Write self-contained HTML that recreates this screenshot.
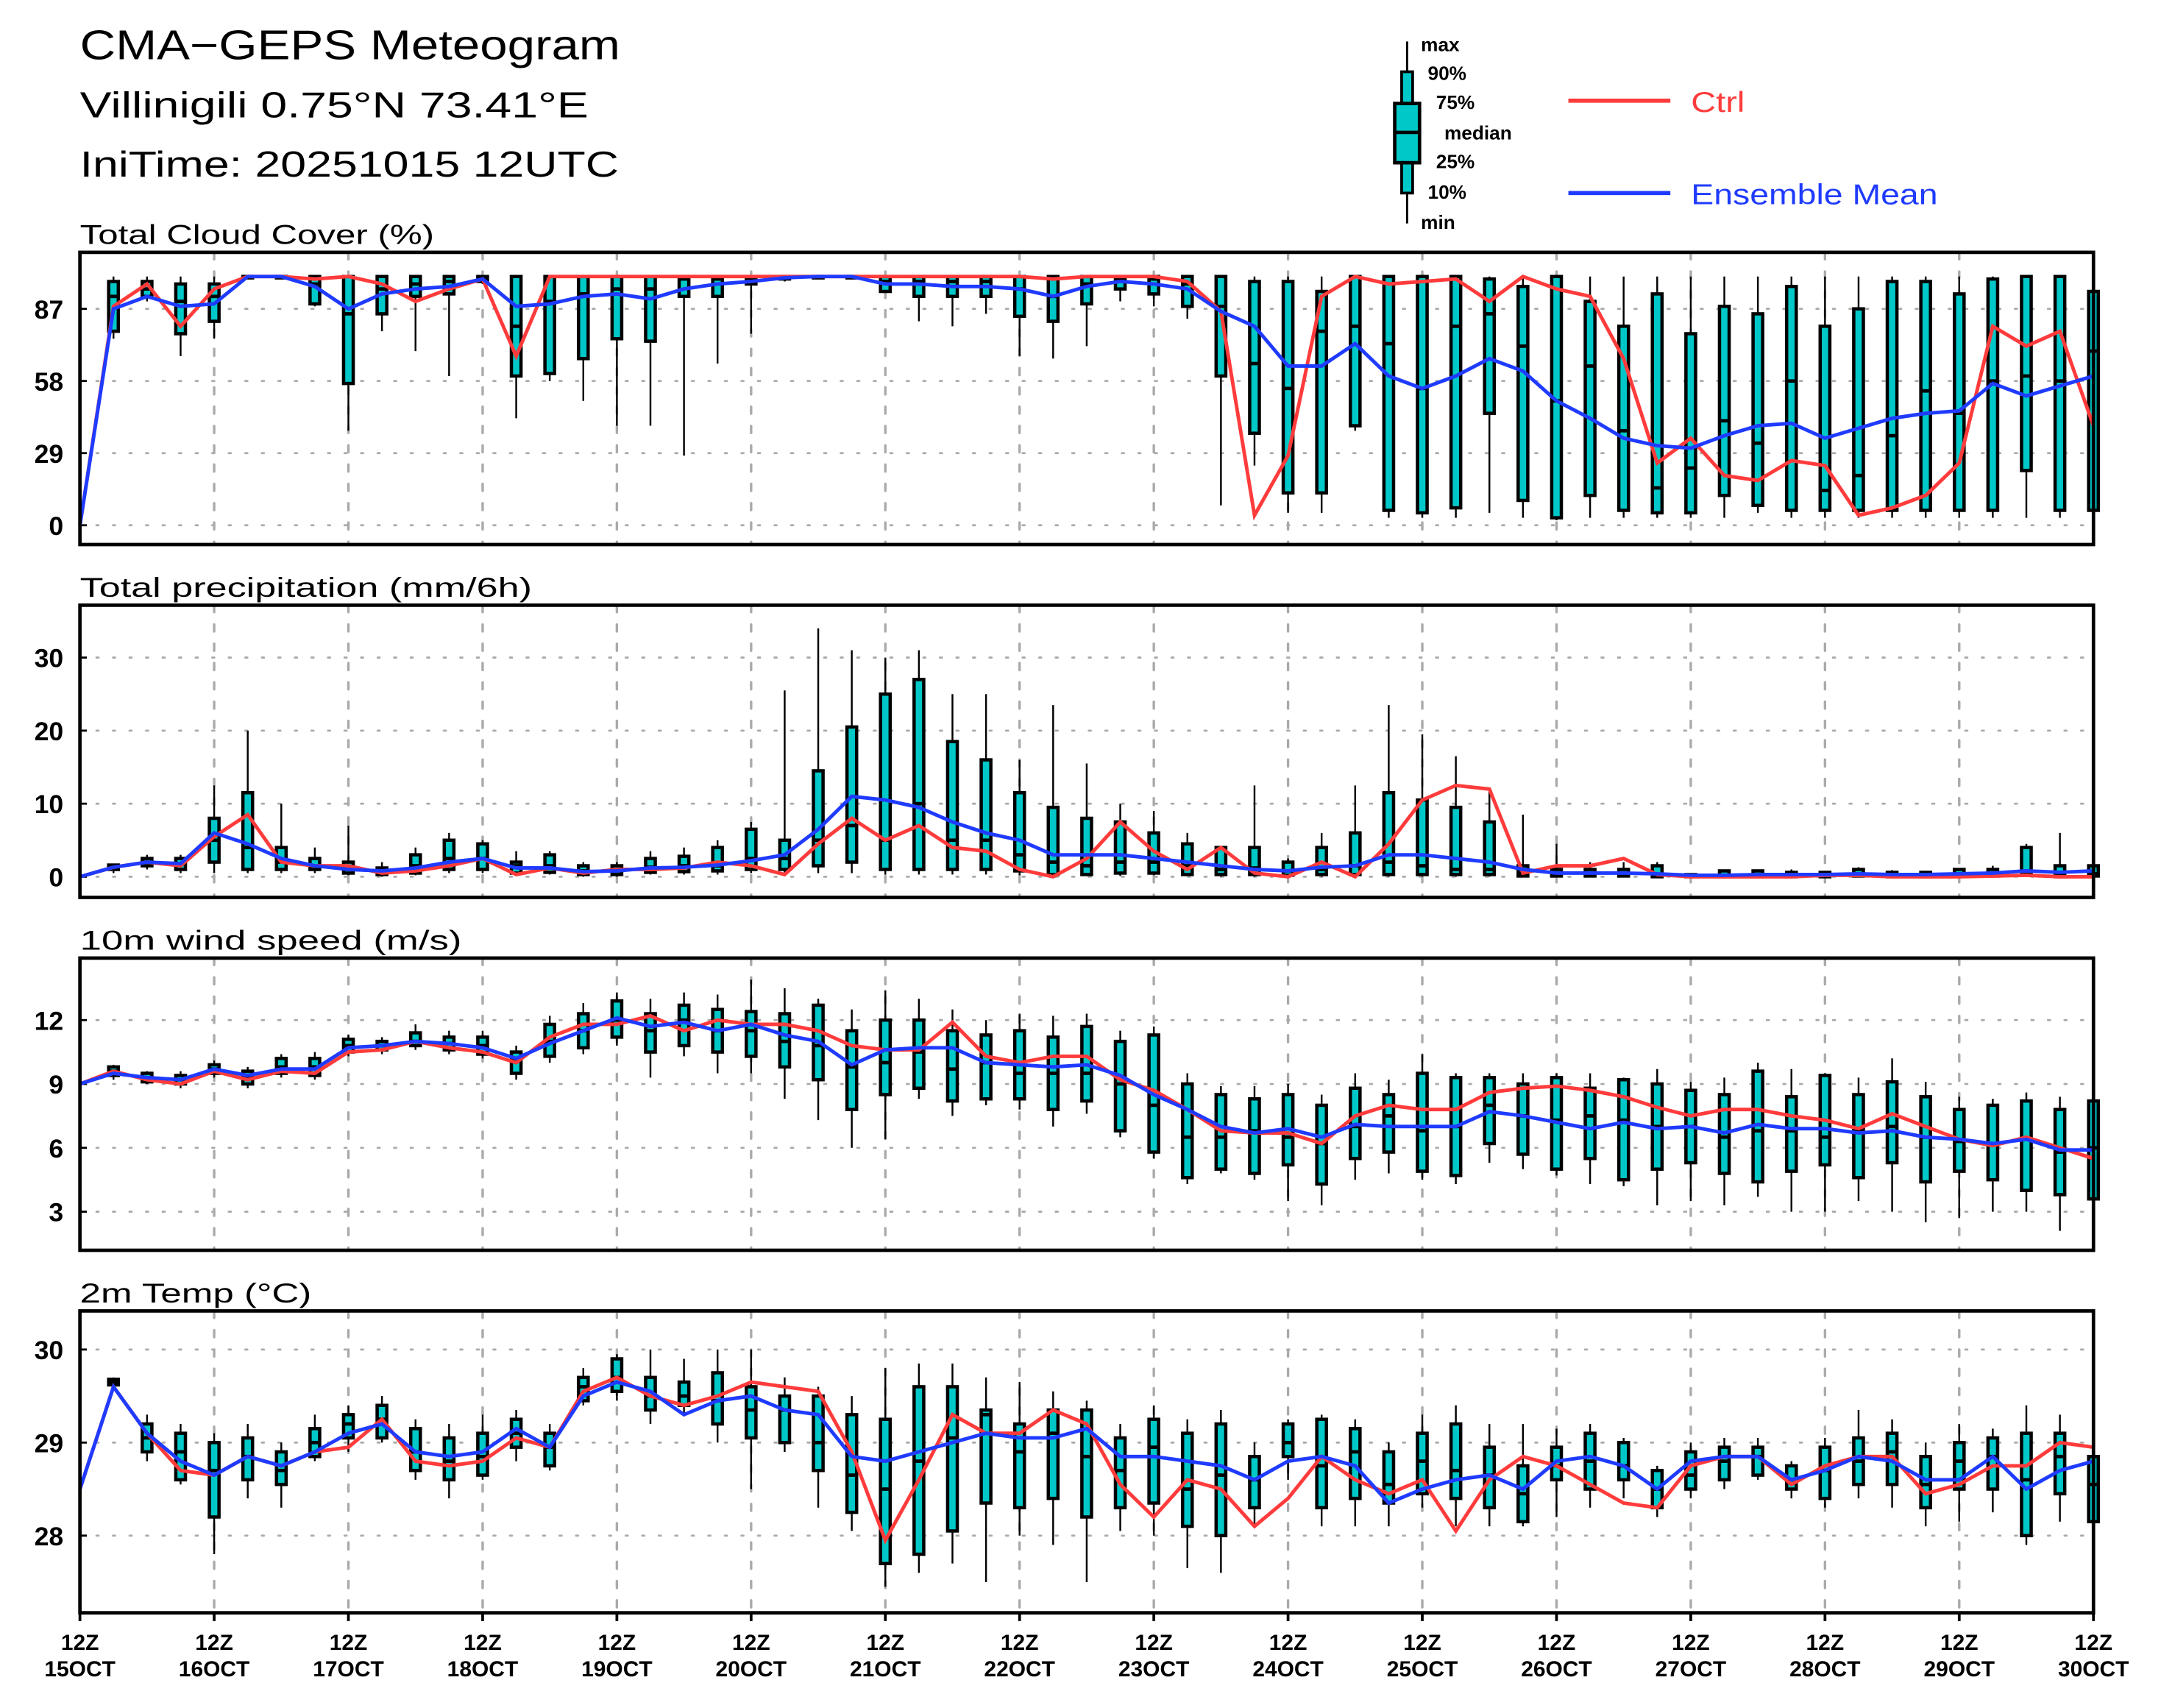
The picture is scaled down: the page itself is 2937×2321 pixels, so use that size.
<!DOCTYPE html>
<html><head><meta charset="utf-8"><style>html,body{margin:0;padding:0;background:#fff}svg{display:block}text{font-family:"Liberation Sans",sans-serif}</style></head>
<body>
<svg id="chart" xmlns="http://www.w3.org/2000/svg" width="2937" height="2321" viewBox="0 0 1568 1239">
<rect width="1568" height="1239" fill="#fff"/>
<text x="58" y="43" font-size="30" textLength="392" lengthAdjust="spacingAndGlyphs">CMA−GEPS Meteogram</text>
<text x="58" y="85" font-size="26" textLength="369" lengthAdjust="spacingAndGlyphs">Villinigili 0.75°N 73.41°E</text>
<text x="58" y="128" font-size="26" textLength="391" lengthAdjust="spacingAndGlyphs">IniTime: 20251015 12UTC</text>
<g id="legend">
<line x1="1021" y1="30" x2="1021" y2="162" stroke="#000" stroke-width="1.5"/>
<rect x="1017" y="52" width="8" height="88" fill="#00c8c8" stroke="#000" stroke-width="2"/>
<rect x="1012" y="75" width="18" height="43" fill="#00c8c8" stroke="#000" stroke-width="2.5"/>
<line x1="1012" y1="96" x2="1030" y2="96" stroke="#000" stroke-width="2.5"/>
<g font-size="14" font-weight="bold">
<text x="1031" y="37">max</text><text x="1036" y="58">90%</text><text x="1042" y="79">75%</text><text x="1048" y="101">median</text><text x="1042" y="122">25%</text><text x="1036" y="144">10%</text><text x="1031" y="166">min</text>
</g>
<line x1="1138" y1="73" x2="1212" y2="73" stroke="#ff3b3b" stroke-width="3"/>
<text x="1227" y="81" font-size="21" fill="#ff3b3b" textLength="39" lengthAdjust="spacingAndGlyphs">Ctrl</text>
<line x1="1138" y1="140" x2="1212" y2="140" stroke="#1f3bff" stroke-width="3"/>
<text x="1227" y="148" font-size="21" fill="#1f3bff" textLength="179" lengthAdjust="spacingAndGlyphs">Ensemble Mean</text>
</g>
<g id="plots"></g>
</svg>
<script>
// ---- Cloud cover (%) ----
const cloudMin=[null,75,90,68,75,99,99,88,38,78,70,60,97,43,58,50,40,40,28,65,77,98,99,99,94,82,80,85,68,67,72,90,88,83,8,24,5,5,38,3,3,3,5,3,2,3,3,3,3,3,5,3,3,3,3,3,3,3,3,3,3];
const cloudLo=[null,78,92,77,82,100,100,89,57,85,92,93,98,60,61,67,75,74,92,92,97,99,100,100,94,92,92,92,84,82,89,95,93,88,60,37,13,13,40,6,5,7,45,10,3,12,6,5,5,12,8,6,6,6,6,6,6,6,22,6,6];
const cloudMed=[null,92,95,90,92,100,100,97,85,95,97,98,99,80,90,93,95,95,99,99,99,100,100,100,98,98,98,98,95,92,97,99,99,97,88,65,55,78,80,73,55,80,85,72,50,64,38,15,23,42,33,58,14,20,36,54,45,58,60,58,70];
const cloudHi=[null,98,98,97,97,100,100,100,100,100,100,100,100,100,100,100,100,100,100,100,100,100,100,100,100,100,100,100,100,100,100,100,100,100,100,98,98,94,100,100,100,100,99,96,100,90,80,93,77,88,85,96,80,87,98,98,93,99,100,100,94];
const cloudMax=[null,100,100,100,100,100,100,100,100,100,100,100,100,100,100,100,100,100,100,100,100,100,100,100,100,100,100,100,100,100,100,100,100,100,100,100,100,100,100,100,100,100,100,100,100,100,100,100,100,100,100,100,100,100,100,100,100,100,100,100,100];
const cloudCtrl=[0,88,97,80,95,100,100,99,100,97,90,95,99,68,100,100,100,100,100,100,100,100,100,100,100,100,100,100,100,99,100,100,100,98,86,4,28,92,100,97,98,99,90,100,95,92,67,25,35,20,18,26,24,4,7,12,25,80,72,78,40];
const cloudMean=[0,87,92,88,89,100,100,96,87,93,95,96,99,88,89,92,93,91,95,97,98,99.5,100,100,97,97,96,96,95,92,96,98,97,95,86,80,64,64,73,60,55,60,67,62,50,43,35,32,31,36,40,41,35,39,43,45,46,57,52,56,60];
// ---- Precipitation (mm/6h) ----
const prMin=[null,0.5,1,0.5,0.5,0.5,0.5,0.5,0.2,0,0.2,0.5,0.5,0.2,0.3,0,0,0.3,0.3,0.3,0.5,0.3,0.5,0.5,0.3,0.3,0.3,0.3,0.2,0.1,0.1,0.1,0.2,0.1,0,0,0,0,0,0,0,0,0,0,0,0,0,0,0,0,0,0,0,0,0,0,0,0,0,0,0];
const prLo=[null,1,1.5,1,2,1,1,1,0.5,0.3,0.5,1,1,0.5,0.6,0.3,0.3,0.6,0.7,0.8,1,1,1.5,2,1,1,1,1,0.8,0.3,0.3,0.5,0.5,0.3,0.3,0.3,0.2,0.3,0.3,0.3,0.3,0.3,0.3,0.1,0.1,0.1,0.1,0,0,0,0,0,0,0.1,0,0,0.1,0.1,0.2,0,0.1];
const prMed=[null,1.3,2,1.8,5,4,2,1.5,1,0.5,1.5,2.5,2.5,1.5,1.5,0.8,0.8,1.3,1.5,1.5,2.5,2.5,5,7,5,10,5,5,3,2,1.5,2,2,1.5,1,1.2,0.8,1,1.5,2,1.5,1,1,0.5,0.3,0.3,0.3,0.2,0.1,0.2,0.2,0.2,0.2,0.3,0.2,0.2,0.3,0.3,0.5,0.3,0.4];
const prHi=[null,1.6,2.5,2.5,8,11.5,4,2.5,2,1.2,3,5,4.5,2,3,1.5,1.5,2.5,2.8,4,6.5,5,14.5,20.5,25,27,18.5,16,11.5,9.5,8,7.5,6,4.5,4,4,2,4,6,11.5,10.5,9.5,7.5,1.5,1,1,1,1.5,0.3,0.8,0.8,0.6,0.6,1,0.6,0.6,1,1,4,1.5,1.5];
const prMax=[null,1.8,3,3,12.5,20,10,4,7,2,4,6,5,3.5,3.5,2,2,3.5,4,5,7.5,25.5,34,31,30,31,25,25,16,23.5,15.5,10,9,6,4,12.5,2.5,6,12.5,23.5,19.5,16.5,12,8.5,4.5,2,2,2,0.5,1,1,1,0.8,1.3,0.9,0.8,1.2,1.5,4.5,6,2];
const prCtrl=[0,1.3,2,1.5,5.5,8.5,2,1.5,1.5,0.5,0.8,1.5,2.5,0.3,1.2,0.5,1,1,1.2,2,1.5,0.3,4.5,8,5,7,4,3.5,1,0,2.5,7.5,3.5,1,4,0.5,0,2,0,4.5,10.5,12.5,12,0.5,1.5,1.5,2.5,0.3,0,0,0,0,0.2,0.2,0,0,0,0.1,0.2,0,0];
const prMean=[0,1.3,2,1.8,6,4.5,2.5,1.5,1,0.8,1.2,2,2.5,1.2,1.2,0.7,0.8,1.2,1.3,1.6,2.2,3,6.5,11,10.5,9.5,7.5,6,5,3,3,3,2.5,2,1.5,1,0.8,1.3,1.5,3,3,2.5,2,1,0.5,0.5,0.5,0.4,0.2,0.2,0.3,0.3,0.3,0.4,0.3,0.3,0.4,0.5,0.8,0.6,0.8];
// ---- 10m wind speed (m/s) ----
const wsMin=[null,9.2,9.0,8.8,9.3,8.8,9.3,9.2,10.3,10.4,10.6,10.4,10.2,9.2,10.0,10.4,10.8,9.3,10.3,9.5,9.5,8.3,7.3,6,6.4,8.3,7.5,8,7.8,7,7.6,6.5,5.5,4.3,4.8,4.5,3.5,3.3,4.5,4.8,4.5,4.3,5.3,5,4.7,4.3,4.2,3.3,3.5,3.3,3.7,3,3,3.5,3,2.5,2.7,3,3,2.1,3.5];
const wsLo=[null,9.4,9.1,9.0,9.5,9.0,9.5,9.4,10.5,10.6,10.8,10.6,10.4,9.5,10.3,10.7,11.2,10.5,10.8,10.5,10.3,9.8,9.2,7.8,8.5,8.8,8.2,8.3,8.3,7.8,8.2,6.8,5.8,4.6,5,4.8,5.2,4.3,5.5,5.8,4.9,4.7,6.2,5.7,5,5.5,4.5,5,5.3,4.8,4.4,4.9,5.2,4.6,5.3,4.4,4.9,4.5,4,3.8,3.6];
const wsMed=[null,9.6,9.3,9.2,9.7,9.3,9.8,9.8,10.8,10.8,11.0,10.9,10.8,10.1,11,11.5,12,11.5,12,11.5,11.5,11,10.8,9.8,10,10.5,9.7,10,9.5,9.5,9.5,9,8,6.5,6.5,6.8,6.5,6.2,7,7.5,6.8,7,8,7.5,7.3,7.5,7.3,7,7,6.5,6.8,6.8,6.5,6.8,7,6.5,6.3,6.2,6.4,5.8,6];
const wsHi=[null,9.8,9.5,9.4,9.9,9.6,10.2,10.2,11.1,11,11.4,11.2,11.2,10.5,11.8,12.3,12.9,12.3,12.7,12.5,12.4,12.3,12.7,11.5,12,12,11.5,11.3,11.5,11.2,11.7,11,11.3,9,8.5,8.3,8.5,8,8.8,8.5,9.5,9.3,9.3,9,9.3,8.8,9.2,9,8.7,8.5,9.6,8.4,9.4,8.5,9.1,8.4,7.8,8,8.2,7.8,8.2];
const wsMax=[null,9.9,9.6,9.6,10.1,9.8,10.4,10.5,11.3,11.2,11.8,11.5,11.5,10.8,12.2,12.8,13.3,13,13.3,13.2,13.9,13.5,13,12.5,13.4,13,12.5,12,12.3,12.2,12.3,11.5,11.7,9.5,8.9,8.9,9,8.5,9.5,9.2,10.4,9.5,9.5,9.5,9.5,9.5,9.3,9.7,9.1,9.3,10,9.7,9.5,9.3,10.2,9.1,8.4,8.3,8.6,8.4,8.3];
const wsCtrl=[9,9.6,9.2,9.0,9.6,9.2,9.6,9.5,10.5,10.6,11,10.7,10.5,10.0,11.2,11.8,11.8,12.2,11.5,12.0,11.8,11.8,11.5,10.8,10.6,10.6,11.9,10.3,10,10.3,10.3,9.2,8.7,7.8,6.8,6.7,6.7,6.2,7.5,8.0,7.8,7.8,8.6,8.8,8.9,8.7,8.4,7.9,7.5,7.8,7.8,7.5,7.3,6.9,7.6,7,6.4,6.1,6.5,6,5.5];
const wsMean=[9,9.5,9.3,9.2,9.7,9.4,9.7,9.7,10.7,10.8,11.0,10.9,10.7,10.2,10.9,11.5,12.1,11.7,11.9,11.5,11.8,11.3,11,9.9,10.6,10.7,10.7,10.0,9.9,9.8,9.9,9.4,8.5,7.8,7.0,6.7,6.9,6.5,7.1,7.0,7.0,7.0,7.7,7.5,7.2,6.9,7.2,6.9,7.0,6.7,7.1,6.9,6.9,6.7,6.8,6.5,6.4,6.2,6.4,5.9,5.9];
// ---- 2m temperature (°C) ----
const tMin=[null,29.6,28.8,28.55,27.8,28.4,28.3,28.8,28.9,29,28.6,28.4,28.6,28.8,28.7,29.4,29.45,29.2,29.3,29,28.5,28.9,28.3,28.05,27.45,27.6,27.7,27.5,28,27.9,27.5,28.05,28,27.65,27.6,28.1,28.6,28.1,28.1,28.1,28.3,28.1,28.1,28.1,28.2,28.3,28.4,28.2,28.4,28.5,28.6,28.4,28.3,28.4,28.3,28.1,28.15,28.25,27.9,28.15,27.95];
const tLo=[null,29.62,28.9,28.6,28.2,28.6,28.55,28.85,29.05,29.05,28.7,28.6,28.65,28.95,28.75,29.45,29.55,29.35,29.4,29.2,29.05,29,28.7,28.25,27.7,27.8,28.05,28.35,28.3,28.4,28.2,28.3,28.35,28.1,28,28.3,28.85,28.3,28.4,28.35,28.45,28.4,28.3,28.15,28.6,28.5,28.6,28.3,28.5,28.6,28.65,28.5,28.4,28.55,28.55,28.3,28.5,28.5,28.0,28.45,28.15];
const tMed=[null,29.65,29.05,28.9,28.7,28.85,28.7,29,29.2,29.25,28.9,28.8,28.85,29.1,28.95,29.6,29.7,29.5,29.5,29.45,29.35,29.35,29,28.65,28.5,28.8,29.05,29.3,28.9,29.1,28.85,28.7,28.95,28.5,28.65,28.6,29,28.75,28.9,28.55,28.8,28.7,28.65,28.45,28.75,28.8,28.75,28.5,28.65,28.8,28.85,28.6,28.7,28.8,28.9,28.55,28.8,28.85,28.6,28.85,28.55];
const tHi=[null,29.68,29.2,29.1,29,29.05,28.9,29.15,29.3,29.4,29.15,29.05,29.1,29.25,29.1,29.7,29.9,29.7,29.65,29.75,29.6,29.5,29.5,29.3,29.25,29.6,29.6,29.35,29.2,29.35,29.35,29.05,29.25,29.1,29.2,28.85,29.2,29.25,29.15,28.9,29.1,29.2,28.95,28.75,28.95,29.1,29,28.7,28.9,28.95,28.95,28.75,28.95,29.05,29.1,28.85,29,29.05,29.1,29.1,28.85];
const tMax=[null,29.7,29.3,29.2,29.1,29.2,29,29.3,29.4,29.5,29.25,29.2,29.3,29.35,29.2,29.8,29.95,30,29.9,30,30,29.7,29.6,29.5,29.8,29.85,29.85,29.7,29.65,29.55,29.45,29.2,29.4,29.25,29.35,29,29.25,29.3,29.25,29,29.3,29.4,29.2,29.2,29.15,29.2,29.05,28.75,29,29.05,29.05,28.8,29.05,29.35,29.25,29,29.2,29.15,29.4,29.3,29];
const tCtrl=[28.5,29.6,29.1,28.7,28.65,28.85,28.75,28.9,28.95,29.25,28.8,28.75,28.8,29.05,28.95,29.55,29.7,29.5,29.4,29.5,29.65,29.6,29.55,28.9,27.95,28.6,29.3,29.1,29.1,29.35,29.2,28.55,28.2,28.6,28.5,28.1,28.4,28.85,28.6,28.45,28.6,28.05,28.6,28.85,28.75,28.55,28.35,28.3,28.75,28.85,28.85,28.55,28.75,28.85,28.85,28.45,28.55,28.75,28.75,29.0,28.95];
const tMean=[28.5,29.6,29.1,28.8,28.65,28.85,28.75,28.9,29.1,29.2,28.9,28.85,28.9,29.15,28.95,29.5,29.65,29.55,29.3,29.45,29.5,29.35,29.3,28.85,28.8,28.9,29.0,29.1,29.05,29.05,29.15,28.85,28.85,28.8,28.75,28.6,28.8,28.85,28.75,28.35,28.5,28.6,28.65,28.5,28.8,28.85,28.75,28.5,28.8,28.85,28.85,28.6,28.7,28.85,28.8,28.6,28.6,28.85,28.5,28.7,28.8];
// ---- axes ----
const dayLabels=["15OCT","16OCT","17OCT","18OCT","19OCT","20OCT","21OCT","22OCT","23OCT","24OCT","25OCT","26OCT","27OCT","28OCT","29OCT","30OCT"];
const cloudTicks=[0,29,58,87];
const prTicks=[0,10,20,30];
const wsTicks=[3,6,9,12];
const tTicks=[28,29,30];

const NS="http://www.w3.org/2000/svg";
const plots=document.getElementById('plots');
const X0=58,X1=1519,NSTEP=60;
function xs(i){return X0+(X1-X0)*i/NSTEP;}
function mk(tag,attrs,parent){const e=document.createElementNS(NS,tag);for(const k in attrs)e.setAttribute(k,attrs[k]);(parent||plots).appendChild(e);return e;}

function panel(cfg){
  const g=mk('g',{});
  
  
  const ys=v=>cfg.y0+(v-cfg.v0)*(cfg.y1-cfg.y0)/(cfg.v1-cfg.v0);
  const t=mk('text',{x:58,y:cfg.top-6,'font-size':20,textLength:cfg.tlen,lengthAdjust:'spacingAndGlyphs'},g);t.textContent=cfg.title;
  
  
  cfg.ticks.forEach(v=>{
    mk('line',{x1:X0,x2:X1,y1:ys(v),y2:ys(v),stroke:'#aaa','stroke-width':1.5,'stroke-dasharray':'1.5 10.5','stroke-linecap':'round'},g);
    const lb=mk('text',{x:46,y:ys(v)+7,'font-size':19,'font-weight':'bold','text-anchor':'end'},g);lb.textContent=v;
    
    
    mk('line',{x1:X0,x2:X0+5,y1:ys(v),y2:ys(v),stroke:'#000','stroke-width':1.5},g);
  });
  for(let d=1;d<15;d++){const x=xs(d*4);mk('line',{x1:x,x2:x,y1:cfg.top,y2:cfg.bot,stroke:'#aaa','stroke-width':1.8,'stroke-dasharray':'5 9','stroke-linecap':'round'},g);}
  for(let i=1;i<=NSTEP;i++){
    if(cfg.mn[i]==null)continue;
    const x=xs(i);
    const w=mk('line',{x1:x,x2:x,y1:ys(cfg.mn[i]),y2:ys(cfg.mx[i]),stroke:'#000','stroke-width':1.3},g);
    
    
    const yt=ys(cfg.hi[i]),yb=ys(cfg.lo[i]);
    const b=mk('rect',{x:x-3.5,y:Math.min(yt,yb),width:7,height:Math.max(1,Math.abs(yb-yt)),fill:'#00c8c8',stroke:'#000','stroke-width':2.4},g);
    
    
    mk('line',{x1:x-4,x2:x+4,y1:ys(cfg.md[i]),y2:ys(cfg.md[i]),stroke:'#000','stroke-width':2.5},g);
  }
  const pts=a=>a.map((v,i)=>xs(i)+','+ys(v)).join(' ');
  const lc=mk('polyline',{points:pts(cfg.ctrl),fill:'none',stroke:'#ff3b3b','stroke-width':2.6},g);
  
  
  const lm=mk('polyline',{points:pts(cfg.mean),fill:'none',stroke:'#1f3bff','stroke-width':2.6},g);
  
  
  mk('rect',{x:X0,y:cfg.top,width:X1-X0,height:cfg.bot-cfg.top,fill:'none',stroke:'#000','stroke-width':2.5},g);
}
panel({name:'cloud-cover-panel',title:'Total Cloud Cover (%)',tlen:257,top:183,bot:395,v0:0,y0:381,v1:87,y1:224,ticks:cloudTicks,mn:cloudMin,lo:cloudLo,md:cloudMed,hi:cloudHi,mx:cloudMax,ctrl:cloudCtrl,mean:cloudMean});
panel({name:'precipitation-panel',title:'Total precipitation (mm/6h)',tlen:328,top:439,bot:651,v0:0,y0:636,v1:30,y1:477,ticks:prTicks,mn:prMin,lo:prLo,md:prMed,hi:prHi,mx:prMax,ctrl:prCtrl,mean:prMean});
panel({name:'wind-speed-panel',title:'10m wind speed (m/s)',tlen:277,top:695,bot:907,v0:3,y0:879,v1:12,y1:740,ticks:wsTicks,mn:wsMin,lo:wsLo,md:wsMed,hi:wsHi,mx:wsMax,ctrl:wsCtrl,mean:wsMean});
panel({name:'temperature-panel',title:'2m Temp (°C)',tlen:168,top:951,bot:1170,v0:28,y0:1114,v1:30,y1:979,ticks:tTicks,mn:tMin,lo:tLo,md:tMed,hi:tHi,mx:tMax,ctrl:tCtrl,mean:tMean});
dayLabels.forEach((d,k)=>{
  const x=xs(k*4);
  mk('line',{x1:x,x2:x,y1:1170,y2:1176,stroke:'#000','stroke-width':2});
  const a=mk('text',{x:x,y:1197,'font-size':16,'font-weight':'bold','text-anchor':'middle'});a.textContent='12Z';
  
  
  const b=mk('text',{x:x,y:1216,'font-size':16,'font-weight':'bold','text-anchor':'middle'});b.textContent=d;
  
  
});
</script>
</body></html>
